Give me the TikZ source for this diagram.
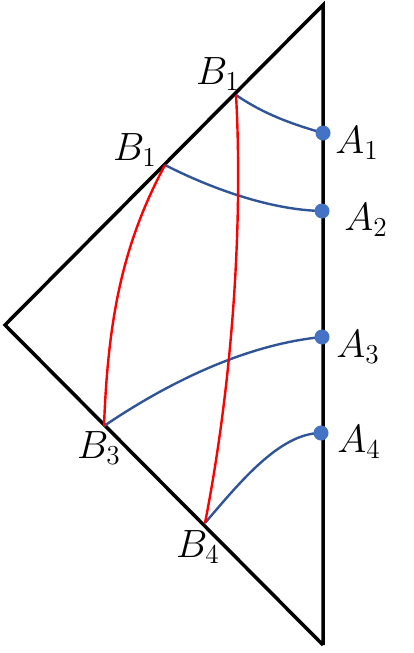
\documentclass[tikz,border=0pt]{standalone}
\definecolor{geoblue}{HTML}{2F5597}
\definecolor{dotblue}{HTML}{4472C4}
\tikzset{
  side/.style={line width=3.5pt},
  geo/.style={line width=2.4pt,geoblue},
  cut/.style={line width=2.4pt,red},
  lab/.style={font=\huge,scale=1.9},
}
\begin{document}
\begin{tikzpicture}[x=1pt,y=-1pt]
  \useasboundingbox (0,0) rectangle (414,653);
  % corners of the triangle
  \coordinate (T) at (323,5);
  \coordinate (L) at (5,325);
  \coordinate (D) at (323,645);
  \draw[side] (D) -- (T) -- (L) -- (D);
  % points on the sides
  \coordinate (B1a) at (236,95);
  \coordinate (B1b) at (165,165);
  \coordinate (B3) at (104,426);
  \coordinate (B4) at (205,523);
  \coordinate (A1) at (323,133);
  \coordinate (A2) at (322,211);
  \coordinate (A3) at (322,337);
  \coordinate (A4) at (321,433);
  % blue curves
  \draw[geo] (B1a) .. controls (265,115) and (295,125) .. (A1);
  \draw[geo] (B1b) .. controls (210,188) and (270,210) .. (A2);
  \draw[geo] (B3) .. controls (160,388) and (240,345) .. (A3);
  \draw[geo] (B4) .. controls (240,482) and (280,433) .. (A4);
  % red curves
  \draw[cut] (B1a) .. controls (243,220) and (233,380) .. (B4);
  \draw[cut] (B1b) .. controls (122,245) and (108,320) .. (B3);
  % dots
  \foreach \p in {A1,A2,A3,A4}
    \fill[dotblue] (\p) circle (7.5pt);
  % labels
  \node[lab] (lB1a) at (218,74) {$B_1$};
  \node[lab] (lB1b) at (135,150) {$B_1$};
  \node[lab] (lB3) at (99,448) {$B_3$};
  \node[lab] (lB4) at (198,547) {$B_4$};
  \node[lab] (lA1) at (357,143) {$A_1$};
  \node[lab] (lA2) at (366,220) {$A_2$};
  \node[lab] (lA3) at (358,347) {$A_3$};
  \node[lab] (lA4) at (359,442) {$A_4$};
\end{tikzpicture}
\end{document}
